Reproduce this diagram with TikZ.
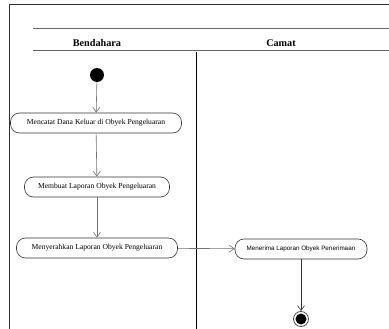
\documentclass[tikz,border=0pt]{standalone}
\usepackage{fontspec}
\setmainfont{Liberation Serif}
\newfontfamily\sansf{Liberation Sans}
\usetikzlibrary{arrows.meta}
\begin{document}
\begin{tikzpicture}[x=1pt,y=-1pt,
  act/.style={draw=black!80,line width=0.6pt,rounded corners=9pt,minimum height=20pt,inner xsep=2pt,font=\fontsize{7.6}{8}\selectfont},
  flow/.style={draw=black!55,line width=0.6pt,-{Straight Barb[length=5pt,width=7pt]}},
  lane/.style={draw=black!60,line width=0.8pt},
  head/.style={font=\bfseries\fontsize{10.2}{12}\selectfont}]
\useasboundingbox (0,0) rectangle (389,329);
% frame
\draw[black!80,line width=1pt] (9,329) -- (9,5) -- (389,5);
\draw[lane] (33,28) -- (389,28);
\draw[lane] (33,50) -- (389,50);
\draw[black,line width=0.9pt] (196,52) -- (196,329);
\node[head] (h1) at (97,43) {Bendahara};
\node[head] (h2) at (281,43) {Camat};
% nodes
\node[circle,fill=black,inner sep=0pt,minimum size=14pt] (start) at (97,75) {};
\node[act,minimum width=171pt] (a1) at (96,123) {Mencatat Dana Keluar di Obyek Pengeluaran};
\node[act,minimum width=145pt] (a2) at (97,187) {Membuat Laporan Obyek Pengeluaran};
\node[act,minimum width=161pt] (a3) at (97,248) {Menyerahkan Laporan Obyek Pengeluaran};
\node[act,minimum width=132pt,font=\sansf\fontsize{6.3}{7}\selectfont] (a4) at (301,249) {Menerima Laporan Obyek Penerimaan};
\node[circle,draw=black!70,line width=0.8pt,inner sep=0pt,minimum size=15pt] (end) at (301,319) {};
\node[circle,fill=black,inner sep=0pt,minimum size=11pt] at (end) {};
% flows
\draw[flow] (start) -- (a1);
\draw[flow] (a1) -- (a2);
\draw[flow] (a2) -- (a3);
\draw[flow] (a3) -- (a4);
\draw[flow,draw=black!80] (a4) -- (end);
\end{tikzpicture}
\end{document}
